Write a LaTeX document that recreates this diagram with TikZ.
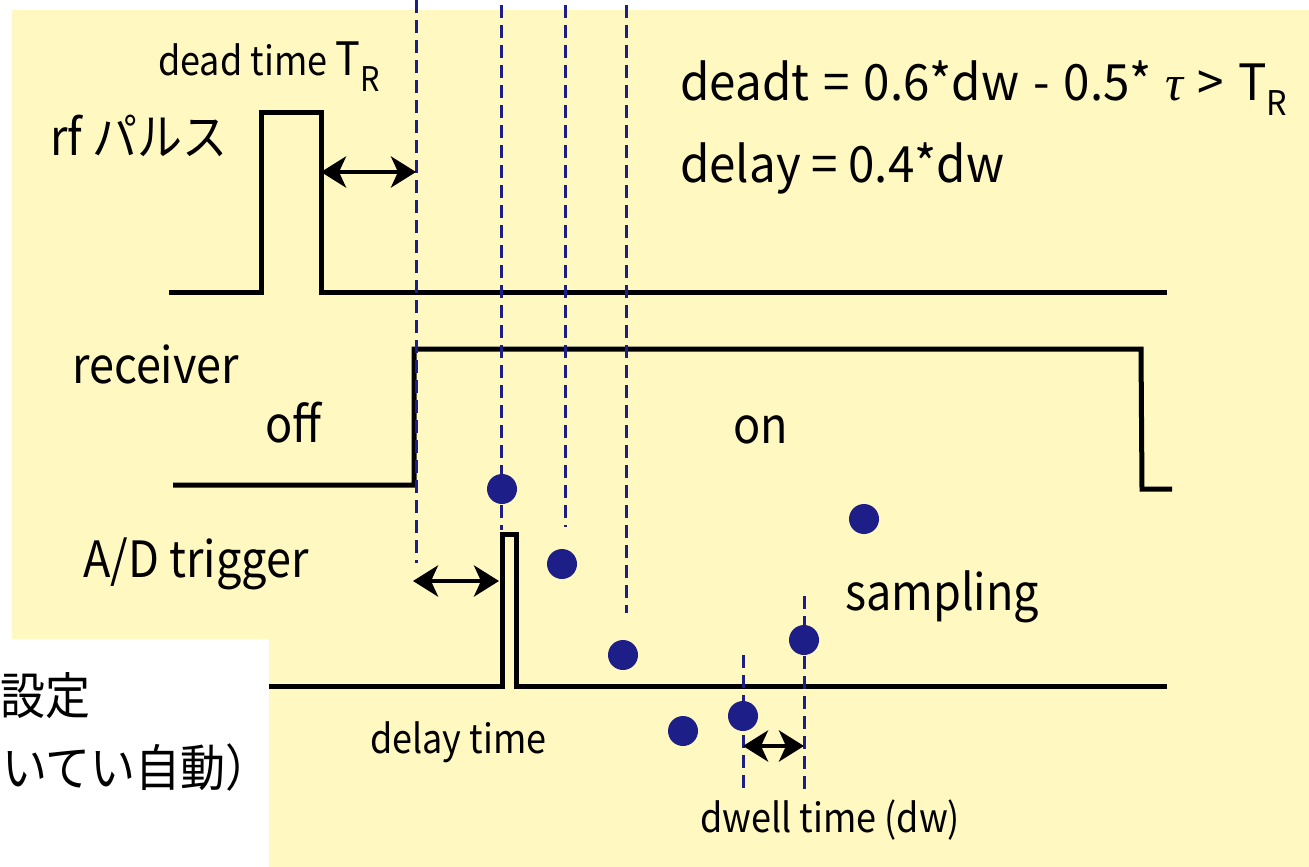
\documentclass[tikz,border=0pt]{standalone}
\usepackage{fontspec}
\setmainfont{Noto Sans CJK JP}[FakeStretch=0.9]
\newfontfamily\eqfont{Noto Sans CJK JP}[FakeStretch=0.95]
\newfontfamily\grkfont{Liberation Serif}
\usetikzlibrary{arrows.meta}
\definecolor{bgyellow}{RGB}{255,248,192}
\definecolor{navy}{RGB}{30,30,136}
\tikzset{
  wave/.style={line width=5pt, line join=miter, black},
  guide/.style={navy, line width=3pt, dash pattern=on 13pt off 7pt},
  sampledot/.style={circle, fill=navy, minimum size=30pt, inner sep=0pt},
  spanarrow/.style={line width=4.5pt, {Stealth[length=25pt,width=31pt,inset=7pt]}-{Stealth[length=25pt,width=31pt,inset=7pt]}},
  lbl/.style={font=\fontsize{50}{60}\selectfont, inner sep=0pt, anchor=base west},
  eqlbl/.style={font=\eqfont\fontsize{50}{60}\selectfont, inner sep=0pt, anchor=base west},
  slbl/.style={font=\fontsize{40}{48}\selectfont, inner sep=0pt, anchor=base west},
  jlbl/.style={font=\fontsize{50}{58}\selectfont, inner sep=0pt, anchor=base west},
}
\begin{document}
\begin{tikzpicture}[x=1pt,y=-1pt]
\useasboundingbox (0,0) rectangle (1309,867);
\fill[white] (0,0) rectangle (1309,867);
\fill[bgyellow] (12,10) rectangle (1309,867);
\fill[white] (0,639) rectangle (269,867);

% white note box text
\node[jlbl] (note1) at (0,714) {設定};
\node[jlbl] (note2) at (2,786) {いてい自動）};

% waveforms
\draw[wave] (169,292) -- (261,292) -- (261,112) -- (321,112) -- (321,292) -- (1167,292);
\draw[wave] (173,485) -- (414,485) -- (414,349) -- (1141,349) -- (1142,489) -- (1172,489);
\draw[wave] (269,686) -- (502,686) -- (502,534) -- (516,534) -- (516,686) -- (1167,686);

% guide lines
\coordinate (g1t) at (416,0);   \coordinate (g1b) at (416,563);
\coordinate (g2t) at (501,5);   \coordinate (g2b) at (501,530);
\coordinate (g3t) at (565,5);   \coordinate (g3b) at (565,527);
\coordinate (g4t) at (626,5);   \coordinate (g4b) at (626,613);
\coordinate (g5t) at (743,655); \coordinate (g5b) at (743,790);
\coordinate (g6t) at (804,596); \coordinate (g6b) at (804,790);
\draw[guide] (g1t) -- (g1b);
\draw[guide] (g2t) -- (g2b);
\draw[guide] (g3t) -- (g3b);
\draw[guide] (g4t) -- (g4b);
\draw[guide] (g5t) -- (g5b);
\draw[guide] (g6t) -- (g6b);

% samples
\node[sampledot] (s1) at (502,489) {};
\node[sampledot] (s2) at (562,564) {};
\node[sampledot] (s3) at (623,655) {};
\node[sampledot] (s4) at (683,731) {};
\node[sampledot] (s5) at (743,716) {};
\node[sampledot] (s6) at (804,640) {};
\node[sampledot] (s7) at (864,519) {};

% span arrows
\coordinate (dtA) at (321,172); \coordinate (dtB) at (416,172);
\draw[spanarrow] (dtA) -- (dtB);
\coordinate (dlA) at (413,581); \coordinate (dlB) at (499,581);
\draw[spanarrow] (dlA) -- (dlB);
\coordinate (dwA) at (743,746); \coordinate (dwB) at (804,746);
\draw[spanarrow] (dwA) -- (dwB);

% labels
\node[slbl] (deadlbl) at (158,75) {dead time {\fontsize{46}{50}\selectfont T\raisebox{-17pt}{\fontsize{34}{40}\selectfont R}}};
\node[lbl] (rflbl) at (50,155) {rf パルス};
\node[eqlbl] (eq1) at (680,100) {\spaceskip=14pt deadt = 0.6*dw - 0.5* {\grkfont\itshape τ} > T\raisebox{-15pt}{\fontsize{34}{40}\selectfont R}};
\node[eqlbl] (eq2) at (680,182) {delay = 0.4*dw};
\node[lbl] (rcvlbl) at (72,383) {receiver};
\node[lbl] (offlbl) at (265,442) {off};
\node[lbl] (onlbl) at (733,443) {on};
\node[lbl] (adlbl) at (83,577) {A/D trigger};
\node[lbl] (samplbl) at (845,610) {sampling};
\node[slbl] (delaylbl) at (370,753) {delay time};
\node[slbl] (dwelllbl) at (700,832) {dwell time (dw)};
\end{tikzpicture}
\end{document}
